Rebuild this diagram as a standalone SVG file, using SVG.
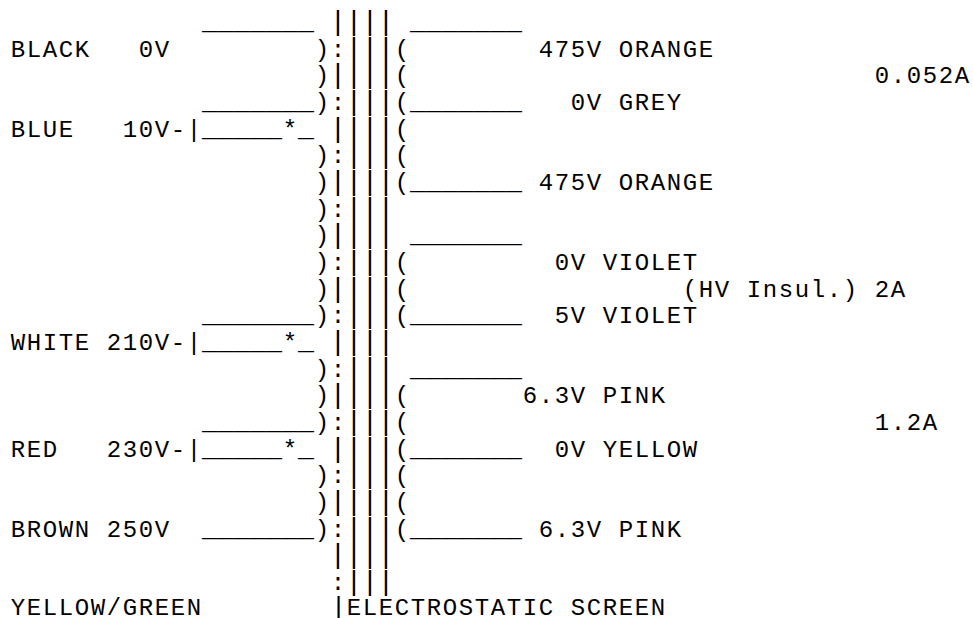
<svg xmlns="http://www.w3.org/2000/svg" width="973" height="618" viewBox="0 0 973 618">
<style>
text{font-family:"Liberation Mono","DejaVu Sans Mono",monospace;font-size:24px;fill:#000;letter-spacing:1.6px}
.p{font-size:28px;letter-spacing:-0.8px}
.u{letter-spacing:0}
</style>
<rect width="973" height="618" fill="#fff"/>
<g id="primary-labels">
<text x="10.8" y="56.67">BLACK</text><text x="138.8" y="56.67">0V</text>
<text x="10.8" y="136.67">BLUE</text><text x="122.8" y="136.67">10V-|</text>
<text x="10.8" y="350">WHITE</text><text x="106.8" y="350">210V-|</text>
<text x="10.8" y="456.67">RED</text><text x="106.8" y="456.67">230V-|</text>
<text x="10.8" y="536.67">BROWN</text><text x="106.8" y="536.67">250V</text>
<text x="10.8" y="614.5">YELLOW/GREEN</text>
</g>
<g id="primary-winding">
<text class="u" x="202" y="30" textLength="112" lengthAdjust="spacingAndGlyphs">_______</text>
<text class="u" x="202" y="110" textLength="112" lengthAdjust="spacingAndGlyphs">_______</text>
<text class="u" x="202" y="136.67" textLength="80" lengthAdjust="spacingAndGlyphs">_____</text><text x="282.8" y="136.67">*</text><text class="u" x="298" y="136.67" textLength="16" lengthAdjust="spacingAndGlyphs">_</text>
<text class="u" x="202" y="323.33" textLength="112" lengthAdjust="spacingAndGlyphs">_______</text>
<text class="u" x="202" y="350" textLength="80" lengthAdjust="spacingAndGlyphs">_____</text><text x="282.8" y="350">*</text><text class="u" x="298" y="350" textLength="16" lengthAdjust="spacingAndGlyphs">_</text>
<text class="u" x="202" y="430" textLength="112" lengthAdjust="spacingAndGlyphs">_______</text>
<text class="u" x="202" y="456.67" textLength="80" lengthAdjust="spacingAndGlyphs">_____</text><text x="282.8" y="456.67">*</text><text class="u" x="298" y="456.67" textLength="16" lengthAdjust="spacingAndGlyphs">_</text>
<text class="u" x="202" y="536.67" textLength="112" lengthAdjust="spacingAndGlyphs">_______</text>
<text x="314.8" y="56.67">)</text><text x="314.8" y="83.33">)</text><text x="314.8" y="110">)</text>
<text x="314.8" y="163.33">)</text><text x="314.8" y="190">)</text><text x="314.8" y="216.67">)</text><text x="314.8" y="243.33">)</text><text x="314.8" y="270">)</text><text x="314.8" y="296.67">)</text><text x="314.8" y="323.33">)</text>
<text x="314.8" y="376.67">)</text><text x="314.8" y="403.33">)</text><text x="314.8" y="430">)</text>
<text x="314.8" y="483.33">)</text><text x="314.8" y="510">)</text><text x="314.8" y="536.67">)</text>
</g>
<g id="core">
<text class="p" x="329.6" y="30">||||</text>
<text x="330.8" y="56.67">:</text><text class="p" x="345.6" y="56.67">|||</text>
<text class="p" x="329.6" y="83.33">||||</text>
<text x="330.8" y="110">:</text><text class="p" x="345.6" y="110">|||</text>
<text class="p" x="329.6" y="136.67">||||</text>
<text x="330.8" y="163.33">:</text><text class="p" x="345.6" y="163.33">|||</text>
<text class="p" x="329.6" y="190">||||</text>
<text x="330.8" y="216.67">:</text><text class="p" x="345.6" y="216.67">|||</text>
<text class="p" x="329.6" y="243.33">||||</text>
<text x="330.8" y="270">:</text><text class="p" x="345.6" y="270">|||</text>
<text class="p" x="329.6" y="296.67">||||</text>
<text x="330.8" y="323.33">:</text><text class="p" x="345.6" y="323.33">|||</text>
<text class="p" x="329.6" y="350">||||</text>
<text x="330.8" y="376.67">:</text><text class="p" x="345.6" y="376.67">|||</text>
<text class="p" x="329.6" y="403.33">||||</text>
<text x="330.8" y="430">:</text><text class="p" x="345.6" y="430">|||</text>
<text class="p" x="329.6" y="456.67">||||</text>
<text x="330.8" y="483.33">:</text><text class="p" x="345.6" y="483.33">|||</text>
<text class="p" x="329.6" y="510">||||</text>
<text x="330.8" y="536.67">:</text><text class="p" x="345.6" y="536.67">|||</text>
<text class="p" x="329.6" y="563.33">||||</text>
<text x="330.8" y="590">:</text><text class="p" x="345.6" y="590">|||</text>
<text x="330.8" y="614.5" style="font-size:26px;letter-spacing:0">|</text><text x="346.8" y="614.5">ELECTROSTATIC SCREEN</text>
</g>
<g id="secondary-winding">
<text x="394.8" y="56.67">(</text><text x="394.8" y="83.33">(</text><text x="394.8" y="110">(</text><text x="394.8" y="136.67">(</text><text x="394.8" y="163.33">(</text><text x="394.8" y="190">(</text>
<text x="394.8" y="270">(</text><text x="394.8" y="296.67">(</text><text x="394.8" y="323.33">(</text>
<text x="394.8" y="403.33">(</text><text x="394.8" y="430">(</text><text x="394.8" y="456.67">(</text><text x="394.8" y="483.33">(</text><text x="394.8" y="510">(</text><text x="394.8" y="536.67">(</text>
<text class="u" x="410" y="30" textLength="112" lengthAdjust="spacingAndGlyphs">_______</text>
<text class="u" x="410" y="110" textLength="112" lengthAdjust="spacingAndGlyphs">_______</text>
<text class="u" x="410" y="190" textLength="112" lengthAdjust="spacingAndGlyphs">_______</text>
<text class="u" x="410" y="243.33" textLength="112" lengthAdjust="spacingAndGlyphs">_______</text>
<text class="u" x="410" y="323.33" textLength="112" lengthAdjust="spacingAndGlyphs">_______</text>
<text class="u" x="410" y="376.67" textLength="112" lengthAdjust="spacingAndGlyphs">_______</text>
<text class="u" x="410" y="456.67" textLength="112" lengthAdjust="spacingAndGlyphs">_______</text>
<text class="u" x="410" y="536.67" textLength="112" lengthAdjust="spacingAndGlyphs">_______</text>
</g>
<g id="secondary-labels">
<text x="538.8" y="56.67">475V ORANGE</text>
<text x="874.8" y="83.33">0.052A</text>
<text x="570.8" y="110">0V GREY</text>
<text x="538.8" y="190">475V ORANGE</text>
<text x="554.8" y="270">0V VIOLET</text>
<text x="682.8" y="296.67">(HV Insul.) 2A</text>
<text x="554.8" y="323.33">5V VIOLET</text>
<text x="522.8" y="403.33">6.3V PINK</text>
<text x="874.8" y="430">1.2A</text>
<text x="554.8" y="456.67">0V YELLOW</text>
<text x="538.8" y="536.67">6.3V PINK</text>
</g>
</svg>
